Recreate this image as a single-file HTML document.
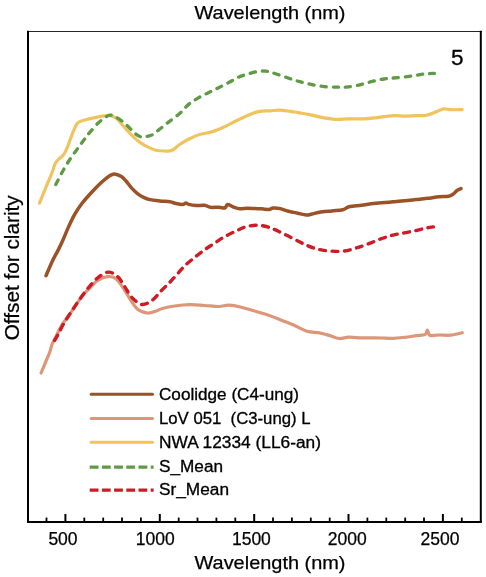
<!DOCTYPE html>
<html><head><meta charset="utf-8"><style>
html,body{margin:0;padding:0;background:#fff;width:486px;height:577px;overflow:hidden}
svg{display:block;will-change:transform}
text{font-family:"Liberation Sans",sans-serif;fill:#000}
</style></head><body>
<svg width="486" height="577" viewBox="0 0 486 577">
<rect width="486" height="577" fill="#fff"/>
<g fill="none" stroke-linejoin="round" stroke-linecap="round">
<path d="M39.50,203.20 C40.10,201.68 41.75,197.43 43.10,194.10 C44.45,190.77 46.08,186.83 47.60,183.20 C49.12,179.57 50.98,175.48 52.20,172.30 C53.42,169.12 53.85,166.23 54.90,164.10 C55.95,161.97 56.98,161.17 58.50,159.50 C60.02,157.83 62.48,156.22 64.00,154.10 C65.52,151.98 66.23,150.13 67.60,146.80 C68.97,143.47 70.68,137.88 72.20,134.10 C73.72,130.32 75.33,126.22 76.70,124.10 C78.07,121.98 78.73,122.17 80.40,121.40 C82.07,120.63 84.40,120.10 86.70,119.50 C89.00,118.90 91.82,118.32 94.20,117.80 C96.58,117.28 98.40,116.77 101.00,116.40 C103.60,116.03 107.25,115.32 109.80,115.60 C112.35,115.88 114.12,116.45 116.30,118.10 C118.48,119.75 120.42,122.75 122.90,125.50 C125.38,128.25 128.45,131.85 131.20,134.60 C133.95,137.35 136.67,139.95 139.40,142.00 C142.13,144.05 144.87,145.53 147.60,146.90 C150.33,148.27 153.05,149.52 155.80,150.20 C158.55,150.88 161.37,150.98 164.10,151.00 C166.83,151.02 169.62,151.38 172.20,150.30 C174.78,149.22 176.72,146.42 179.60,144.50 C182.48,142.58 186.20,140.47 189.50,138.80 C192.80,137.13 195.70,135.65 199.40,134.50 C203.10,133.35 207.60,133.15 211.70,131.90 C215.80,130.65 219.88,128.85 224.00,127.00 C228.12,125.15 232.27,122.80 236.40,120.80 C240.53,118.80 245.10,116.53 248.80,115.00 C252.50,113.47 255.07,112.30 258.60,111.60 C262.13,110.90 266.45,111.03 270.00,110.80 C273.55,110.57 275.78,110.00 279.90,110.20 C284.02,110.40 291.35,111.55 294.70,112.00 C298.05,112.45 297.53,112.47 300.00,112.90 C302.47,113.33 305.45,113.78 309.50,114.60 C313.55,115.42 319.77,117.00 324.30,117.80 C328.83,118.60 332.58,119.23 336.70,119.40 C340.82,119.57 344.48,118.88 349.00,118.80 C353.52,118.72 359.27,119.07 363.80,118.90 C368.33,118.73 371.33,118.35 376.20,117.80 C381.07,117.25 388.27,115.87 393.00,115.60 C397.73,115.33 400.75,116.20 404.60,116.20 C408.45,116.20 412.65,115.72 416.10,115.60 C419.55,115.48 422.23,116.03 425.30,115.50 C428.37,114.97 431.43,113.50 434.50,112.40 C437.57,111.30 441.00,109.35 443.70,108.90 C446.40,108.45 447.62,109.58 450.70,109.70 C453.78,109.82 460.28,109.62 462.20,109.60" stroke="#F1C35E" stroke-width="3.2"/>
<path d="M46.00,275.70 C47.03,273.32 50.13,265.75 52.20,261.40 C54.27,257.05 56.55,253.30 58.40,249.60 C60.25,245.90 61.65,242.90 63.30,239.20 C64.95,235.50 66.45,231.47 68.30,227.40 C70.15,223.33 72.13,218.78 74.40,214.80 C76.67,210.82 79.02,207.27 81.90,203.50 C84.78,199.73 88.42,195.73 91.70,192.20 C94.98,188.67 98.72,184.97 101.60,182.30 C104.48,179.63 106.87,177.60 109.00,176.20 C111.13,174.80 112.33,173.83 114.40,173.90 C116.47,173.97 119.47,175.42 121.40,176.60 C123.33,177.78 124.28,179.08 126.00,181.00 C127.72,182.92 129.78,186.00 131.70,188.10 C133.62,190.20 135.52,192.05 137.50,193.60 C139.48,195.15 141.52,196.40 143.60,197.40 C145.68,198.40 147.28,199.02 150.00,199.60 C152.72,200.18 156.57,200.53 159.90,200.90 C163.23,201.27 167.32,201.37 170.00,201.80 C172.68,202.23 173.83,203.07 176.00,203.50 C178.17,203.93 181.35,204.48 183.00,204.40 C184.65,204.32 184.95,203.00 185.90,203.00 C186.85,203.00 187.03,203.97 188.70,204.40 C190.37,204.83 193.25,205.45 195.90,205.60 C198.55,205.75 202.20,205.02 204.60,205.30 C207.00,205.58 207.90,206.98 210.30,207.30 C212.70,207.62 216.58,207.08 219.00,207.20 C221.42,207.32 223.37,208.45 224.80,208.00 C226.23,207.55 226.17,204.67 227.60,204.50 C229.03,204.33 231.33,206.28 233.40,207.00 C235.47,207.72 237.70,208.60 240.00,208.80 C242.30,209.00 244.70,208.23 247.20,208.20 C249.70,208.17 252.53,208.50 255.00,208.60 C257.47,208.70 259.67,208.63 262.00,208.80 C264.33,208.97 267.15,209.73 269.00,209.60 C270.85,209.47 271.22,208.17 273.10,208.00 C274.98,207.83 277.88,208.10 280.30,208.60 C282.72,209.10 284.72,210.23 287.60,211.00 C290.48,211.77 294.48,212.53 297.60,213.20 C300.72,213.87 303.90,214.87 306.30,215.00 C308.70,215.13 309.82,214.47 312.00,214.00 C314.18,213.53 316.12,212.72 319.40,212.20 C322.68,211.68 327.80,211.30 331.70,210.90 C335.60,210.50 339.92,210.48 342.80,209.80 C345.68,209.12 345.90,207.57 349.00,206.80 C352.10,206.03 357.28,205.75 361.40,205.20 C365.52,204.65 370.35,203.90 373.70,203.50 C377.05,203.10 378.28,203.08 381.50,202.80 C384.72,202.52 389.15,202.13 393.00,201.80 C396.85,201.47 400.75,201.17 404.60,200.80 C408.45,200.43 412.27,200.02 416.10,199.60 C419.93,199.18 423.77,198.77 427.60,198.30 C431.43,197.83 435.63,197.13 439.10,196.80 C442.57,196.47 446.03,196.77 448.40,196.30 C450.77,195.83 451.87,194.97 453.30,194.00 C454.73,193.03 455.72,191.40 457.00,190.50 C458.28,189.60 460.33,188.92 461.00,188.60" stroke="#9A5226" stroke-width="3.5"/>
<path d="M41.10,373.00 C41.88,371.12 44.37,365.15 45.80,361.70 C47.23,358.25 48.67,355.17 49.70,352.30 C50.73,349.43 51.10,346.83 52.00,344.50 C52.90,342.17 53.53,341.42 55.10,338.30 C56.67,335.18 59.05,329.70 61.40,325.80 C63.75,321.90 66.87,318.27 69.20,314.90 C71.53,311.53 73.07,308.97 75.40,305.60 C77.73,302.23 80.77,297.63 83.20,294.70 C85.63,291.77 87.67,290.33 90.00,288.00 C92.33,285.67 94.32,282.60 97.20,280.70 C100.08,278.80 104.18,276.95 107.30,276.60 C110.42,276.25 113.27,276.72 115.90,278.60 C118.53,280.48 120.70,284.42 123.10,287.90 C125.50,291.38 127.88,295.95 130.30,299.50 C132.72,303.05 134.72,306.95 137.60,309.20 C140.48,311.45 144.48,312.70 147.60,313.00 C150.72,313.30 153.85,311.75 156.30,311.00 C158.75,310.25 159.23,309.33 162.30,308.50 C165.37,307.67 170.17,306.63 174.70,306.00 C179.23,305.37 184.57,304.78 189.50,304.70 C194.43,304.62 199.37,305.20 204.30,305.50 C209.23,305.80 214.98,306.55 219.10,306.50 C223.22,306.45 225.28,305.08 229.00,305.20 C232.72,305.32 237.28,306.27 241.40,307.20 C245.52,308.13 248.93,309.37 253.70,310.80 C258.47,312.23 265.23,314.17 270.00,315.80 C274.77,317.43 278.18,318.98 282.30,320.60 C286.42,322.22 290.58,323.73 294.70,325.50 C298.82,327.27 302.88,329.97 307.00,331.20 C311.12,332.43 315.68,332.20 319.40,332.90 C323.12,333.60 326.02,334.47 329.30,335.40 C332.58,336.33 335.82,338.20 339.10,338.50 C342.38,338.80 345.28,337.30 349.00,337.20 C352.72,337.10 357.28,337.78 361.40,337.90 C365.52,338.02 370.35,337.88 373.70,337.90 C377.05,337.92 378.28,337.92 381.50,338.00 C384.72,338.08 389.15,338.52 393.00,338.40 C396.85,338.28 400.75,337.75 404.60,337.30 C408.45,336.85 412.65,336.18 416.10,335.70 C419.55,335.22 423.43,335.32 425.30,334.40 C427.17,333.48 426.63,330.13 427.30,330.20 C427.97,330.27 428.68,333.90 429.30,334.80 C429.92,335.70 429.37,335.57 431.00,335.60 C432.63,335.63 435.82,335.07 439.10,335.00 C442.38,334.93 446.85,335.58 450.70,335.20 C454.55,334.82 460.28,333.12 462.20,332.70" stroke="#DD9678" stroke-width="3.2"/>
</g>
<g fill="none" stroke-linejoin="round" stroke-linecap="round">
<path d="M55.80,184.60 C57.02,182.25 60.67,174.83 63.10,170.50 C65.53,166.17 67.98,162.25 70.40,158.60 C72.82,154.95 75.18,151.93 77.60,148.60 C80.02,145.27 82.83,141.35 84.90,138.60 C86.97,135.85 87.78,134.70 90.00,132.10 C92.22,129.50 95.70,125.43 98.20,123.00 C100.70,120.57 103.07,118.82 105.00,117.50 C106.93,116.18 108.18,115.27 109.80,115.10 C111.42,114.93 112.78,115.58 114.70,116.50 C116.62,117.42 119.10,118.97 121.30,120.60 C123.50,122.23 125.72,124.25 127.90,126.30 C130.08,128.35 132.22,131.12 134.40,132.90 C136.58,134.68 138.80,136.45 141.00,137.00 C143.20,137.55 145.67,136.60 147.60,136.20 C149.53,135.80 150.68,135.70 152.60,134.60 C154.52,133.50 156.63,131.53 159.10,129.60 C161.57,127.67 163.98,125.68 167.40,123.00 C170.82,120.32 175.92,116.73 179.60,113.50 C183.28,110.27 186.20,106.30 189.50,103.60 C192.80,100.90 196.10,99.18 199.40,97.30 C202.70,95.42 206.02,93.95 209.30,92.30 C212.58,90.65 215.82,89.05 219.10,87.40 C222.38,85.75 225.70,84.13 229.00,82.40 C232.30,80.67 235.60,78.43 238.90,77.00 C242.20,75.57 245.52,74.75 248.80,73.80 C252.08,72.85 255.73,71.73 258.60,71.30 C261.47,70.87 263.68,70.95 266.00,71.20 C268.32,71.45 268.95,71.72 272.50,72.80 C276.05,73.88 282.78,76.22 287.30,77.70 C291.82,79.18 295.48,80.55 299.60,81.70 C303.72,82.85 307.88,83.78 312.00,84.60 C316.12,85.42 320.18,86.18 324.30,86.60 C328.42,87.02 333.00,87.02 336.70,87.10 C340.40,87.18 342.80,87.43 346.50,87.10 C350.20,86.77 354.78,86.00 358.90,85.10 C363.02,84.20 367.08,82.72 371.20,81.70 C375.32,80.68 379.97,79.62 383.60,79.00 C387.23,78.38 389.50,78.35 393.00,78.00 C396.50,77.65 400.75,77.35 404.60,76.90 C408.45,76.45 412.65,75.80 416.10,75.30 C419.55,74.80 422.23,74.22 425.30,73.90 C428.37,73.58 432.97,73.48 434.50,73.40" stroke="#5F9A45" stroke-width="3.3" stroke-dasharray="5.242 6.956"/>
<path d="M54.60,340.40 C55.33,339.13 57.62,335.37 59.00,332.80 C60.38,330.23 61.20,327.98 62.90,325.00 C64.60,322.02 67.12,318.13 69.20,314.90 C71.28,311.67 73.20,308.83 75.40,305.60 C77.60,302.37 79.97,298.80 82.40,295.50 C84.83,292.20 87.30,288.87 90.00,285.80 C92.70,282.73 95.48,279.38 98.60,277.10 C101.72,274.82 105.45,272.10 108.70,272.10 C111.95,272.10 115.45,274.70 118.10,277.10 C120.75,279.50 122.32,283.13 124.60,286.50 C126.88,289.87 128.92,294.30 131.80,297.30 C134.68,300.30 138.45,304.05 141.90,304.50 C145.35,304.95 149.23,302.33 152.50,300.00 C155.77,297.67 158.67,293.40 161.50,290.50 C164.33,287.60 166.85,285.35 169.50,282.60 C172.15,279.85 174.77,276.88 177.40,274.00 C180.03,271.12 182.42,268.07 185.30,265.30 C188.18,262.53 191.58,259.92 194.70,257.40 C197.82,254.88 200.65,252.60 204.00,250.20 C207.35,247.80 211.32,245.28 214.80,243.00 C218.28,240.72 221.30,238.53 224.90,236.50 C228.50,234.47 232.83,232.43 236.40,230.80 C239.97,229.17 242.73,227.63 246.30,226.70 C249.87,225.77 253.97,225.07 257.80,225.20 C261.63,225.33 265.47,226.30 269.30,227.50 C273.13,228.70 276.57,230.43 280.80,232.40 C285.03,234.37 290.33,237.13 294.70,239.30 C299.07,241.47 302.88,243.68 307.00,245.40 C311.12,247.12 315.28,248.65 319.40,249.60 C323.52,250.55 327.58,250.85 331.70,251.10 C335.82,251.35 339.98,251.63 344.10,251.10 C348.22,250.57 352.28,249.13 356.40,247.90 C360.52,246.67 364.62,245.25 368.80,243.70 C372.98,242.15 377.47,240.03 381.50,238.60 C385.53,237.17 389.15,236.07 393.00,235.10 C396.85,234.13 400.75,233.57 404.60,232.80 C408.45,232.03 412.65,231.27 416.10,230.50 C419.55,229.73 422.42,228.80 425.30,228.20 C428.18,227.60 432.05,227.12 433.40,226.90" stroke="#CF1B25" stroke-width="3.4" stroke-dasharray="5.856 6.551"/>
</g>
<g stroke="#000" fill="none">
<line x1="27" y1="31.5" x2="481.8" y2="31.5" stroke-width="1.1" stroke="#262626"/>
<line x1="28" y1="30.8" x2="28" y2="522.7" stroke-width="2"/>
<line x1="480.8" y1="30.8" x2="480.8" y2="522.7" stroke-width="2"/>
<line x1="27" y1="521.9" x2="481.8" y2="521.9" stroke-width="2"/>
<line x1="46.5" y1="521.9" x2="46.5" y2="517.6" stroke-width="1.8"/>
<line x1="65.4" y1="521.9" x2="65.4" y2="514" stroke-width="2"/>
<line x1="84.3" y1="521.9" x2="84.3" y2="517.6" stroke-width="1.8"/>
<line x1="103.2" y1="521.9" x2="103.2" y2="517.6" stroke-width="1.8"/>
<line x1="122.0" y1="521.9" x2="122.0" y2="517.6" stroke-width="1.8"/>
<line x1="140.9" y1="521.9" x2="140.9" y2="517.6" stroke-width="1.8"/>
<line x1="159.8" y1="521.9" x2="159.8" y2="514" stroke-width="2"/>
<line x1="178.7" y1="521.9" x2="178.7" y2="517.6" stroke-width="1.8"/>
<line x1="197.5" y1="521.9" x2="197.5" y2="517.6" stroke-width="1.8"/>
<line x1="216.4" y1="521.9" x2="216.4" y2="517.6" stroke-width="1.8"/>
<line x1="235.3" y1="521.9" x2="235.3" y2="517.6" stroke-width="1.8"/>
<line x1="254.2" y1="521.9" x2="254.2" y2="514" stroke-width="2"/>
<line x1="273.0" y1="521.9" x2="273.0" y2="517.6" stroke-width="1.8"/>
<line x1="291.9" y1="521.9" x2="291.9" y2="517.6" stroke-width="1.8"/>
<line x1="310.8" y1="521.9" x2="310.8" y2="517.6" stroke-width="1.8"/>
<line x1="329.7" y1="521.9" x2="329.7" y2="517.6" stroke-width="1.8"/>
<line x1="348.5" y1="521.9" x2="348.5" y2="514" stroke-width="2"/>
<line x1="367.4" y1="521.9" x2="367.4" y2="517.6" stroke-width="1.8"/>
<line x1="386.3" y1="521.9" x2="386.3" y2="517.6" stroke-width="1.8"/>
<line x1="405.2" y1="521.9" x2="405.2" y2="517.6" stroke-width="1.8"/>
<line x1="424.0" y1="521.9" x2="424.0" y2="517.6" stroke-width="1.8"/>
<line x1="442.9" y1="521.9" x2="442.9" y2="514" stroke-width="2"/>
<line x1="461.8" y1="521.9" x2="461.8" y2="517.6" stroke-width="1.8"/>
</g>
<g font-size="17.5" stroke="#000" stroke-width="0.25">
<text x="63.0" y="545" text-anchor="middle">500</text>
<text x="155.3" y="545" text-anchor="middle">1000</text>
<text x="251.4" y="545" text-anchor="middle">1500</text>
<text x="347.2" y="545" text-anchor="middle">2000</text>
<text x="440.0" y="545" text-anchor="middle">2500</text>
</g>
<g stroke="#000" stroke-width="0.25">
<text x="194.5" y="19.3" font-size="19" textLength="151" lengthAdjust="spacingAndGlyphs">Wavelength (nm)</text>
<text x="194.5" y="568.5" font-size="19" textLength="151" lengthAdjust="spacingAndGlyphs">Wavelength (nm)</text>
<text transform="translate(18.7,340.3) rotate(-90)" x="0" y="0" font-size="19.8" textLength="145" lengthAdjust="spacingAndGlyphs">Offset for clarity</text>
<text x="451" y="65.2" font-size="22.5" stroke-width="0.3">5</text>
</g>
<g fill="none" stroke-width="3">
<line x1="91.2" y1="394.2" x2="152.5" y2="394.2" stroke="#9A5226" stroke-linecap="round"/>
<line x1="91.2" y1="418.4" x2="152.5" y2="418.4" stroke="#DD9678" stroke-linecap="round"/>
<line x1="91.2" y1="442.3" x2="152.5" y2="442.3" stroke="#F1C35E" stroke-linecap="round"/>
<line x1="89.7" y1="467.2" x2="153.6" y2="467.2" stroke="#5F9A45" stroke-dasharray="8.8 3.4" stroke-width="3.2"/>
<line x1="89.7" y1="490.1" x2="153.6" y2="490.1" stroke="#CF1B25" stroke-dasharray="8.8 3.4" stroke-width="3.4"/>
</g>
<g font-size="15.8" stroke="#000" stroke-width="0.3">
<text x="159" y="399.7" textLength="140" lengthAdjust="spacingAndGlyphs">Coolidge (C4-ung)</text>
<text x="159" y="423.9" textLength="151.5" lengthAdjust="spacingAndGlyphs">LoV 051&#160; (C3-ung) L</text>
<text x="159" y="448" textLength="162" lengthAdjust="spacingAndGlyphs">NWA 12334 (LL6-an)</text>
<text x="159" y="472" textLength="64" lengthAdjust="spacingAndGlyphs">S_Mean</text>
<text x="159" y="495" textLength="70" lengthAdjust="spacingAndGlyphs">Sr_Mean</text>
</g>
</svg>
</body></html>
